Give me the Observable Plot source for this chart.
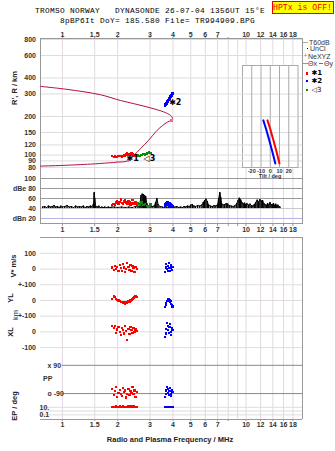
<!DOCTYPE html>
<html><head><meta charset="utf-8">
<script src="https://cdn.jsdelivr.net/npm/d3@7"></script>
<script src="https://cdn.jsdelivr.net/npm/@observablehq/plot@0.6"></script>
<style>
html,body{margin:0;padding:0;background:#fff;overflow:hidden;}
#wrap{position:relative;width:335px;height:451px;overflow:hidden;font-family:"Liberation Sans",Arial,sans-serif;color:#333;}
#wrap svg{position:absolute;left:0;}
.t{position:absolute;white-space:pre;}
.mono{font-family:"Liberation Mono","DejaVu Sans Mono",monospace;}
.rot{transform:translate(-50%,-50%) rotate(-90deg);font-weight:bold;font-size:7.5px;color:#222;}
.lg{font-size:7px;color:#333;line-height:7px;}
</style></head><body><div id="wrap"></div>
<script>
// ---------- data ----------
const freqGrid = [1,1.5,2,3,4,5,6,7,8,9,10,12,14,16,18];
const freqLabelsTop = [1,1.5,2,3,4,5,6,7,8,10,12,14,16,18];
const freqLabelsMid = [1,1.5,2,3,4,5,6,7,8,9,10,12,14,16,18];
const heightTicks = [800,600,400,300,200,150,120,100,90,80];
const dbTicks = [100,80,60,40,20];
const dbTickLabels = ["100","dBe 80","60","40","dBn 20"];
const tiltTicks = [-20,-10,0,10,20];
const rowTickU = [300,200,100,0,-100,-200,-300];
const rowTickLabels = ["100","0","+-100","0","+-100","0","-100"];
const ppTicks = [90,-90];
const ppTickLabels = ["x 90","o -90"];
const epTicks = [10,1,0.1];
const epTickLabels = ["10.","","0.1"];

// true-height / plasma-frequency profile (upper branch -> nose -> lower branch)
const profileF = [0.76,1.06,1.61,2.07,2.45,3.01,3.57,3.88,3.98,3.92,3.73,3.51,3.28,2.94,2.66,2.44,2.26,1.99,1.61,1.42,1.0,0.76];
const profileH = [344,326,296,267,252,234,217,204,193,188,181,170,156,130,112,99,90,88,86,85,83,82];
const nodeF = [1.99,2.27,3.93];
const nodeH = [88,90,186];

// echo class *1 (red)
const redF  = [1.87,1.90,1.93,1.96,1.99,2.02,2.05,2.08,2.11,2.14,2.17,2.20,2.23,2.26,2.29,2.32,2.35,2.38,2.41,2.44,2.47,2.50,2.54];
const redH  = [98,97,98,97,97,98,99,98,97,99,100,99,101,103,101,100,102,104,101,100,99,100,98];
const redAmp= [47,49,48,52,55,50,53,58,51,49,54,56,52,50,55,53,48,51,57,50,49,52,47];
const redV  = [10,-5,20,0,15,-10,25,5,-15,30,10,-20,0,40,15,-5,25,-10,20,5,-20,15,0];
const redYL = [10,25,20,12,5,0,-5,-12,-8,-18,-12,-20,-8,-15,-5,-10,0,5,10,15,22,25,20];
const redXL = [35,25,40,-5,15,30,0,-20,25,10,-10,35,5,-50,20,-15,30,10,-5,25,0,15,5];
const redPP = [-60,-100,-75,-50,-110,-85,-65,-95,-105,-55,-80,-70,-115,-90,-60,-100,-75,-85,-50,-95,-70,-110,-80];
const redEP = [12,15,10,18,14,11,16,13,9,17,12,15,11,14,19,13,10,16,12,18,14,11,15];
// echo class *2 (blue)
const blueF  = [3.62,3.65,3.68,3.71,3.74,3.77,3.80,3.83,3.86,3.89,3.92,3.95,3.98];
const blueH  = [244,248,252,257,262,266,270,276,281,286,292,297,302];
const blueAmp= [45,48,50,47,52,49,51,46,50,48,44,47,45];
const blueV  = [-20,10,30,0,-10,20,40,5,-15,25,10,-5,15];
const blueYL = [-40,-30,-15,-5,5,12,8,0,-10,-5,-20,-30,-38];
const blueXL = [-30,-10,20,55,40,10,-5,30,50,0,-20,25,10];
const bluePP = [-110,-95,-70,-50,-60,-85,-100,-75,-55,-90,-105,-65,-80];
const blueEP = [12,14,11,13,15,12,10,14,13,11,12,14,13];
// echo class <3 (green)
const greenF  = [2.58,2.64,2.70,2.76,2.82,2.88,2.95,3.02];
const greenH  = [99,98,100,102,101,103,105,104];
const greenAmp= [50,48,52,47,49,45,44,48];

const labelF = [2.32,2.87,3.96];
const labelH = [94,94,258];
const labelText = ["✱1","◁3","✱2"];

// tilt inset
const tiltH = [187,160,130,108,86];
const tiltRed = [-3,0,3.5,6.5,10];
const tiltBlue = [-7.5,-4.5,-1,2,5.5];

// amplitude trace (dB)
const ampF = [0.78,0.80,0.82,0.84,0.86,0.88,0.90,0.92,0.94,0.96,0.98,1.00,1.03,1.06,1.09,1.12,1.15,1.18,1.21,1.24,1.27,1.30,1.33,1.36,1.39,1.42,1.45,1.48,1.49,1.50,1.52,1.55,1.58,1.61,1.64,1.67,1.70,1.74,1.78,1.82,1.86,1.92,2.00,2.10,2.20,2.30,2.40,2.50,2.58,2.64,2.68,2.72,2.76,2.80,2.84,2.88,2.94,3.00,3.08,3.16,3.22,3.27,3.32,3.40,3.50,3.60,3.70,3.80,3.90,4.00,4.10,4.20,4.30,4.40,4.50,4.60,4.70,4.80,4.90,5.00,5.10,5.20,5.30,5.45,5.60,5.75,5.85,5.95,6.05,6.15,6.25,6.40,6.55,6.70,6.85,7.00,7.10,7.20,7.28,7.36,7.50,7.65,7.80,7.95,8.10,8.30,8.50,8.70,8.90,9.05,9.20,9.35,9.50,9.65,9.80,9.95,10.1,10.3,10.5,10.7,10.9,11.1,11.3,11.5,11.7,11.9,12.1,12.3,12.5,12.7,12.9,13.1,13.3,13.5,13.7,13.9,14.1,14.3,14.5,14.7,14.9,15.1,15.3];
const ampDb = [43,44,42,45,43,44,46,43,44,42,45,43,44,46,43,44,42,45,43,44,43,45,42,44,43,45,44,50,72,60,44,43,45,42,43,42,43,42,43,42,43,43,42,43,42,43,42,44,43,48,66,69,68,66,64,50,44,43,44,45,52,60,48,44,43,42,43,42,43,42,43,44,42,43,42,44,43,45,44,47,48,45,44,46,45,47,52,56,59,54,47,45,44,46,45,48,60,72,62,50,47,48,50,49,46,45,44,46,50,56,61,57,52,49,51,48,50,47,49,46,45,48,52,57,53,58,55,56,50,48,46,50,47,52,48,47,50,46,49,45,47,44,43];

// ---------- layout ----------
const W = 335, ML = 40, MR = 33;
const X = {type:"log", domain:[0.76, 20.3]};
const baseStyle = {fontFamily:"'Liberation Sans', Arial, sans-serif", fontSize:"7px", fontWeight:"bold", color:"#333", background:"transparent", overflow:"visible"};
const GRIDV = "#e2d8e2", GRIDH = "#dcdcdc";
const wrap = document.getElementById("wrap");
function place(svg, top){ svg.style.top = top + "px"; wrap.appendChild(svg); }
function txt(s, x, y, cls, extra){ const d=document.createElement("div"); d.className="t "+(cls||""); d.textContent=s; d.style.left=x+"px"; d.style.top=y+"px"; if(extra) Object.assign(d.style, extra); wrap.appendChild(d); return d; }
const fmt = d => String(d);
const crisp = {shapeRendering:"crispEdges"};

const profile = profileF.map((f,i)=>({f, h:profileH[i]}));
const nodes = nodeF.map((f,i)=>({f, h:nodeH[i]}));
const red = redF.map((f,i)=>({f, h:redH[i], db:redAmp[i]}));
const blue = blueF.map((f,i)=>({f, h:blueH[i], db:blueAmp[i]}));
const green = greenF.map((f,i)=>({f, h:greenH[i], db:greenAmp[i]}));
const labels = labelF.map((f,i)=>({f, h:labelH[i], t:labelText[i]}));
const amp = ampF.map((f,i)=>({f, db:ampDb[i]}));

// ---------- top panel: heights ----------
const plotA = Plot.plot({
  width:W, height:156, marginLeft:ML, marginRight:MR, marginTop:14, marginBottom:2,
  style:baseStyle, x:X, y:{type:"log", domain:[65.6, 814]},
  marks:[
    Plot.gridX(freqGrid, {stroke:GRIDV, strokeOpacity:1}),
    Plot.gridY(heightTicks, {stroke:GRIDH, strokeOpacity:1}),
    Plot.axisX({ticks:freqLabelsTop, anchor:"top", tickSize:2, tickPadding:0, tickFormat:fmt, label:null, stroke:"#999"}),
    Plot.axisY({ticks:heightTicks, anchor:"left", tickSize:0, tickPadding:4.5, tickFormat:fmt, label:null}),
    Plot.frame({stroke:"#999"}),
    Plot.line(profile, {x:"f", y:"h", stroke:"#b0123f", strokeWidth:1, curve:"catmull-rom"}),
    Plot.dot(nodes, {x:"f", y:"h", symbol:"square", r:1.4, fill:"#ea6fa0", ...crisp}),
    Plot.dot(red, {x:"f", y:"h", symbol:"square", r:1.2, fill:"#ff0000", ...crisp}),
    Plot.dot(green, {x:"f", y:"h", symbol:"square", r:1.3, fill:"#0a8a0a", ...crisp}),
    Plot.dot(blue, {x:"f", y:"h", symbol:"square", r:1.4, fill:"#0000ff", ...crisp}),
    Plot.text(labels, {x:"f", y:"h", text:"t", fill:"#000", fontSize:8, fontWeight:"bold", fontFamily:"DejaVu Sans", textAnchor:"start", dx:-3})
  ]
});
place(plotA, 24);

// ---------- tilt inset ----------
const tiltR = tiltH.map((h,i)=>({h, t:tiltRed[i]}));
const tiltB = tiltH.map((h,i)=>({h, t:tiltBlue[i]}));
const plotD = Plot.plot({
  width:W, height:126, marginLeft:242, marginRight:37.5, marginTop:10, marginBottom:14,
  style:{...baseStyle, fontSize:"5.5px"}, x:{domain:[-30,30]}, y:{type:"log", domain:[80,502], axis:null},
  marks:[
    Plot.frame({fill:"white", stroke:"#aaa"}),
    Plot.gridY(heightTicks.filter(h=>h>80 && h<502), {stroke:GRIDH, strokeOpacity:1}),
    Plot.gridX(tiltTicks, {stroke:"#aaa", strokeOpacity:1}),
    Plot.axisX({ticks:tiltTicks, anchor:"bottom", tickSize:0, tickPadding:1.5, tickFormat:fmt, label:null}),
    Plot.line(tiltR, {x:"t", y:"h", stroke:"#ff0000", strokeWidth:2}),
    Plot.line(tiltB, {x:"t", y:"h", stroke:"#0000ff", strokeWidth:2})
  ]
});
place(plotD, 55);

// ---------- amplitude panel ----------
const dbMap = new Map(dbTicks.map((d,i)=>[d, dbTickLabels[i]]));
const plotB = Plot.plot({
  width:W, height:65, marginLeft:ML, marginRight:MR, marginTop:8, marginBottom:12,
  style:baseStyle, x:X, y:{domain:[10,100]},
  marks:[
    Plot.gridX(freqGrid, {stroke:GRIDV, strokeOpacity:1}),
    Plot.gridY([100,40], {stroke:"#c8c8c8", strokeOpacity:1}),
    Plot.gridY([80,60], {stroke:"#9a9a9a", strokeOpacity:1, strokeWidth:1.2}),
    Plot.gridY([20], {stroke:"#b4b4e6", strokeOpacity:1}),
    Plot.axisY({ticks:dbTicks, anchor:"left", tickSize:0, tickPadding:4.5, tickFormat:d=>dbMap.get(d), label:null}),
    Plot.axisX({ticks:freqLabelsMid, anchor:"bottom", tickSize:3, tickPadding:1, tickFormat:fmt, label:null, stroke:"#999"}),
    Plot.frame({stroke:"#999"}),
    Plot.ruleX(amp, {x:"f", y1:40, y2:"db", stroke:"#000", strokeWidth:1.4}),
    Plot.line(amp, {x:"f", y:"db", stroke:"#000", strokeWidth:0.9}),
    Plot.dot(red, {x:"f", y:"db", symbol:"square", r:1.3, fill:"#ff0000", ...crisp}),
    Plot.dot(green, {x:"f", y:"db", symbol:"square", r:1.3, fill:"#0a8a0a", ...crisp}),
    Plot.dot(blue, {x:"f", y:"db", symbol:"square", r:1.5, fill:"#0000ff", ...crisp})
  ]
});
place(plotB, 170);

// ---------- lower panel: V*, YL, XL, PP, EP ----------
const OFF_V = 200, OFF_YL = 0, OFF_XL = -200, OFF_PP = -503, EP_BASE = -680, EP_DEC = 24.2;
const epU = v => EP_BASE + EP_DEC*Math.log10(v/10);
const lowDomain = [-758, 401];
function rows(F, V, YL, XL, PP, EP){
  const out=[];
  F.forEach((f,i)=>{
    out.push({f, u:V[i]+OFF_V}, {f, u:YL[i]+OFF_YL}, {f, u:XL[i]+OFF_XL}, {f, u:PP[i]+OFF_PP}, {f, u:epU(EP[i])});
  });
  return out;
}
const lowRed = rows(redF, redV, redYL, redXL, redPP, redEP);
const lowBlue = rows(blueF, blueV, blueYL, blueXL, bluePP, blueEP);
const rowMap = new Map(rowTickU.map((u,i)=>[u, rowTickLabels[i]]));
const ppU = ppTicks.map(p=>p+OFF_PP);
const ppMap = new Map(ppU.map((u,i)=>[u, ppTickLabels[i]]));
const epUs = epTicks.map(epU);
const epMap = new Map(epUs.map((u,i)=>[u, epTickLabels[i]]));
const plotC = Plot.plot({
  width:W, height:221, marginLeft:ML, marginRight:MR, marginTop:7, marginBottom:32,
  style:baseStyle, x:X, y:{domain:lowDomain},
  marks:[
    Plot.gridX(freqGrid, {stroke:GRIDV, strokeOpacity:1}),
    Plot.gridY(rowTickU, {stroke:"#e0dce0", strokeOpacity:1}),
    Plot.gridY(epUs, {stroke:"#dcdcdc", strokeOpacity:1}),
    Plot.ruleY(ppU, {x1:1, x2:X.domain[1], stroke:"#888"}),
    Plot.axisY({ticks:rowTickU, anchor:"left", tickSize:0, tickPadding:4.5, tickFormat:d=>rowMap.get(d), label:null}),
    Plot.axisY({ticks:ppU, anchor:"left", tickSize:0, tickPadding:0, dx:7, textAnchor:"start", tickFormat:d=>ppMap.get(d), label:null}),
    Plot.axisY({ticks:epUs, anchor:"left", tickSize:0, tickPadding:0, dx:-1, textAnchor:"start", tickFormat:d=>epMap.get(d), label:null}),
    Plot.axisX({ticks:freqLabelsTop, anchor:"bottom", tickSize:2, tickPadding:0.5, tickFormat:fmt, label:null, stroke:"#999"}),
    Plot.ruleY([lowDomain[1]], {stroke:"#999"}),
    Plot.ruleY([lowDomain[0]], {stroke:"#999"}),
    Plot.ruleX([X.domain[1]], {stroke:"#999"}),
    Plot.dot(lowRed, {x:"f", y:"u", symbol:"square", r:1.2, fill:"#ff0000", ...crisp}),
    Plot.dot(lowBlue, {x:"f", y:"u", symbol:"square", r:1.2, fill:"#0000ff", ...crisp})
  ]
});
place(plotC, 230);

// ---------- texts ----------
txt("TROMSO NORWAY   DYNASONDE 26-07-04 1356UT 15°E", 150, 7.2, "mono", {fontSize:"7.8px", letterSpacing:"0.32px", lineHeight:"9px", transform:"translateX(-50%)", color:"#000"});
txt("8pBP6It DoY= 185.580 File= TR994909.BPG", 157.5, 16.8, "mono", {fontSize:"7.8px", letterSpacing:"0.32px", lineHeight:"9px", transform:"translateX(-50%)", color:"#000"});
txt("HPTx is OFF!", 271.5, 1, "mono", {width:"62px", height:"13px", boxSizing:"border-box", border:"1px solid #e00", background:"#ffff00", color:"#e00", fontSize:"8.2px", lineHeight:"11px", textAlign:"center"});

txt("R', R / km", 14, 88, "rot");
txt("V* m/s", 13, 266, "rot");
txt("YL", 10, 298, "rot");
txt("km", 15, 315, "rot", {fontWeight:"normal"});
txt("XL", 10, 332, "rot");
txt("EP / deg", 14, 406, "rot");
txt("PP", 43, 375, "", {fontSize:"7px", fontWeight:"bold", lineHeight:"8px"});
txt("Tilt / deg", 270, 173, "", {fontSize:"5.5px", fontWeight:"bold", transform:"translateX(-50%)", lineHeight:"6px"});
txt("Radio and Plasma Frequency / MHz", 170, 436, "", {fontSize:"7.5px", fontWeight:"bold", transform:"translateX(-50%)", lineHeight:"8px", color:"#222"});

// legend
function sw(x, y, w, h, c){ const d=document.createElement("div"); Object.assign(d.style,{position:"absolute", left:x+"px", top:y+"px", width:w+"px", height:h+"px", background:c}); wrap.appendChild(d); }
txt("T60dB", 309, 38.5, "lg"); sw(303, 41.5, 4.5, 1, "#aaa");
txt("UnCl", 310, 45, "lg"); sw(306.5, 48, 1, 1, "#000");
txt("NeXYZ", 308, 52.5, "lg"); txt("+", 303.5, 52, "lg", {color:"#e0609a"});
sw(303, 63, 4.5, 1, "#e07090"); txt("Θx", 308, 59.8, "lg");
sw(318.5, 63, 4.5, 1, "#6060e0"); txt("Θy", 324, 59.8, "lg");
sw(305.5, 72, 2.5, 2.5, "#ff0000"); txt("✱1", 311.5, 69.8, "lg", {fontFamily:"DejaVu Sans", fontWeight:"bold", color:"#000"});
sw(305.5, 79.7, 2.5, 2.5, "#0000ff"); txt("✱2", 311.5, 77.5, "lg", {fontFamily:"DejaVu Sans", fontWeight:"bold", color:"#000"});
sw(305.5, 88.7, 2.5, 2.5, "#0a8a0a"); txt("◁3", 311.5, 86.5, "lg", {fontFamily:"DejaVu Sans", color:"#000"});
</script></body></html>
